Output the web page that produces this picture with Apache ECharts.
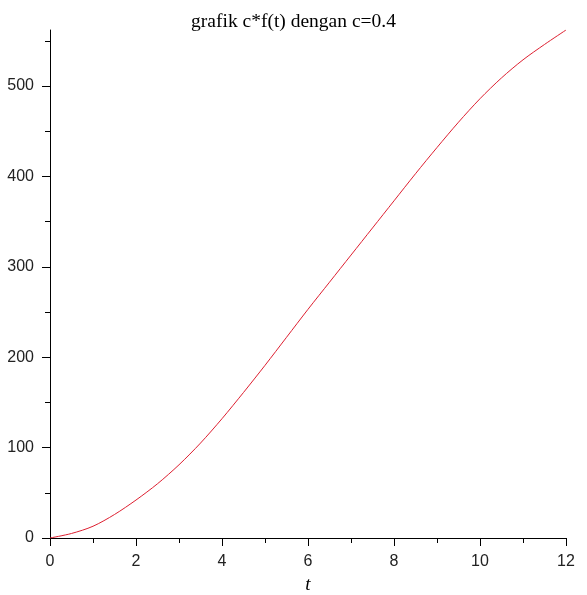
<!DOCTYPE html>
<html>
<head>
<meta charset="utf-8">
<script src="https://cdn.jsdelivr.net/npm/echarts@6/dist/echarts.min.js"></script>
<style>
html,body{margin:0;padding:0;background:#fff;}
#chart{width:587px;height:595px;}
</style>
</head>
<body>
<div id="chart"></div>
<script>
const titleText = 'grafik c*f(t) dengan c=0.4';
const tValues = [0,0.5,1,1.5,2,2.5,3,3.5,4,4.5,5,5.5,6,6.5,7,7.5,8,8.5,9,9.5,10,10.5,11,11.5,12];
const cfValues = [0,5,13,26,42,60,81,105,132,161,191,222,253,283,313,343,373,403,432,460,486,509,529,546,562];
const xTickLabels = [0,2,4,6,8,10,12];
const yTickLabels = [0,100,200,300,400,500];
const yMinorTicks = [50,150,250,350,450,550];
const yMax = 562;

const seriesData = tValues.map((t, i) => [t, cfValues[i]]);

const chart = echarts.init(document.getElementById('chart'));
const axisColor = '#000';
chart.setOption({
  animation: false,
  backgroundColor: '#fff',
  title: {
    text: titleText,
    left: 'center',
    top: 7,
    textStyle: {fontFamily: 'Liberation Serif', fontSize: 19.5, fontWeight: 'normal', color: '#000'}
  },
  grid: {left: 50, right: 21, top: 30, bottom: 57, containLabel: false, outerBoundsMode: 'none'},
  xAxis: {
    type: 'value',
    min: 0, max: 12, interval: 2,
    name: 't',
    nameLocation: 'middle',
    nameGap: 37,
    nameTextStyle: {fontFamily: 'Liberation Serif', fontStyle: 'italic', fontSize: 19, color: '#000'},
    axisLine: {show: true, onZero: false, lineStyle: {color: axisColor, width: 1}},
    axisTick: {show: true, length: 8, lineStyle: {color: axisColor}},
    minorTick: {show: true, splitNumber: 2, length: 5, lineStyle: {color: axisColor}},
    axisLabel: {margin: 16, fontFamily: 'Liberation Sans', fontSize: 16, color: '#222',
      customValues: xTickLabels},
    splitLine: {show: false},
    minorSplitLine: {show: false}
  },
  yAxis: [{
    type: 'value',
    min: 0, max: yMax,
    axisLine: {show: true, onZero: false, lineStyle: {color: axisColor, width: 1}},
    axisTick: {show: true, length: 8, lineStyle: {color: axisColor}, customValues: yTickLabels},
    axisLabel: {margin: 16, fontFamily: 'Liberation Sans', fontSize: 16, color: '#222', customValues: yTickLabels},
    splitLine: {show: false}
  }, {
    type: 'value',
    min: 0, max: yMax,
    position: 'left',
    axisLine: {show: false},
    axisTick: {show: true, length: 5, lineStyle: {color: axisColor}, customValues: yMinorTicks},
    axisLabel: {show: false},
    splitLine: {show: false}
  }],
  series: [{
    type: 'line',
    data: seriesData,
    smooth: 0.3,
    showSymbol: false,
    lineStyle: {color: '#dd1f30', width: 1},
    yAxisIndex: 0
  }]
});
</script>
</body>
</html>
